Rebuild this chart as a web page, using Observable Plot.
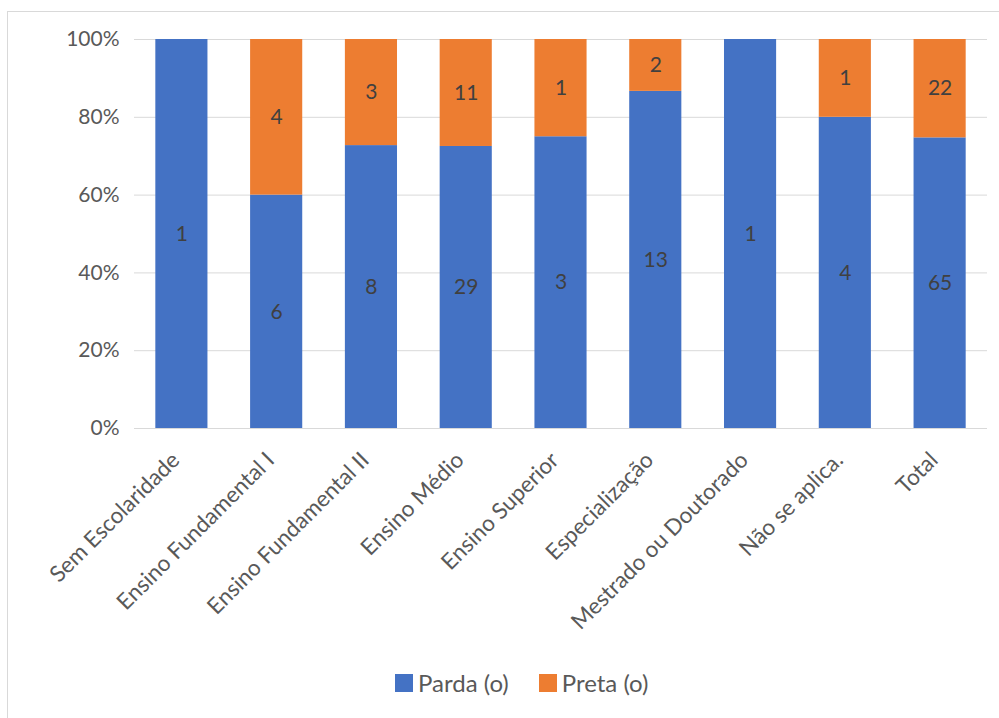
<!DOCTYPE html>
<html>
<head>
<meta charset="utf-8">
<script src="https://cdn.jsdelivr.net/npm/d3@7"></script>
<script src="https://cdn.jsdelivr.net/npm/@observablehq/plot@0.6"></script>
<style>
  body { margin: 0; background: #fff; font-family: Lato, "Open Sans", sans-serif; }
  #wrap { position: relative; width: 999px; height: 718px; overflow: hidden; }
  #frame { position: absolute; left: 7px; top: 11px; width: 1000px; height: 720px; border: 1px solid #d9d9d9; box-sizing: border-box; }
  #chart { position: absolute; left: 0; top: 0; }
  #legend { position: absolute; left: 395px; top: 668px; display: flex; gap: 30px; font-size: 24px; color: #595959; }
  .item { display: flex; align-items: center; gap: 5px; }
  .sw { width: 18px; height: 18px; display: inline-block; }
</style>
</head>
<body>
<div id="wrap">
  <div id="frame"></div>
  <div id="chart"></div>
  <div id="legend"></div>
</div>
<script>
const categories = ["Sem Escolaridade", "Ensino Fundamental I", "Ensino Fundamental II", "Ensino Médio", "Ensino Superior", "Especialização", "Mestrado ou Doutorado", "Não se aplica.", "Total"];
const series = ["Parda (o)", "Preta (o)"];
const parda = [1, 6, 8, 29, 3, 13, 1, 4, 65];
const preta = [0, 4, 3, 11, 1, 2, 0, 1, 22];
const colors = ["#4472C4", "#ED7D31"];
const yTicks = [0, 0.2, 0.4, 0.6, 0.8, 1];

const data = [];
categories.forEach((c, i) => {
  data.push({cat: c, series: series[0], value: parda[i]});
  data.push({cat: c, series: series[1], value: preta[i]});
});
const labelData = data.filter(d => d.value > 0);

const chart = Plot.plot({
  width: 999,
  height: 660,
  marginLeft: 134,
  marginRight: 12,
  marginTop: 39,
  marginBottom: 232,
  style: { fontFamily: "Lato, 'Open Sans', sans-serif", fontSize: "21px", color: "#595959", background: "transparent" },
  x: { domain: categories, paddingInner: 0.45, paddingOuter: 0.225, round: false, label: null },
  y: { domain: [0, 1], label: null },
  color: { domain: series, range: colors },
  marks: [
    Plot.gridY(yTicks, { stroke: "#d9d9d9", strokeOpacity: 1 }),
    Plot.barY(data, Plot.stackY({ offset: "normalize", x: "cat", y: "value", z: "series", fill: "series", order: series })),
    Plot.text(labelData, Plot.stackY({ offset: "normalize", x: "cat", y: "value", z: "series", order: series, text: d => String(d.value), fill: "#404040", fontSize: 21 })),
    Plot.axisY(yTicks, { tickSize: 0, tickPadding: 15, tickFormat: d => Math.round(d * 100) + "%", fill: "#595959", fontSize: 21 }),
    Plot.axisX({ tickSize: 0, tickRotate: -45, tickPadding: 28, dx: -6, fill: "#595959", fontSize: 22.5 }),
    Plot.ruleY([0], { stroke: "#d9d9d9" })
  ]
});
document.getElementById("chart").appendChild(chart);

const legend = document.getElementById("legend");
series.forEach((s, i) => {
  const it = document.createElement("div");
  it.className = "item";
  const sw = document.createElement("span");
  sw.className = "sw";
  sw.style.background = colors[i];
  const t = document.createElement("span");
  t.textContent = s;
  it.appendChild(sw); it.appendChild(t);
  legend.appendChild(it);
});
</script>
</body>
</html>
